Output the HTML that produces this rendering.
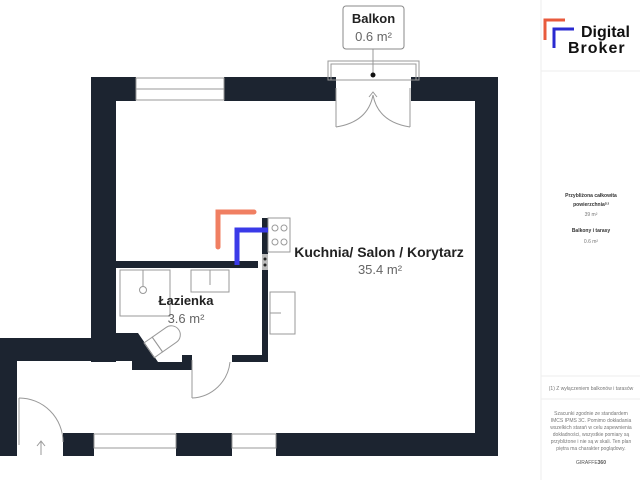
<!DOCTYPE html>
<html><head><meta charset="utf-8"><style>
html,body{margin:0;padding:0;background:#fff;width:640px;height:480px;overflow:hidden}
svg{display:block}
text{font-family:"Liberation Sans",sans-serif}
</style></head><body>
<svg width="640" height="480" viewBox="0 0 640 480" xmlns="http://www.w3.org/2000/svg">
<rect width="640" height="480" fill="#fff"/>
<g fill="#1c2430">
<rect x="91" y="77" width="45" height="24"/>
<rect x="224" y="77" width="112" height="24"/>
<rect x="411" y="77" width="87" height="24"/>
<rect x="91" y="77" width="25" height="285"/>
<rect x="475" y="77" width="23" height="379"/>
<rect x="63" y="433" width="31" height="23"/>
<rect x="176" y="433" width="56" height="23"/>
<rect x="276" y="433" width="222" height="23"/>
<rect x="0" y="338" width="116" height="23"/>
<rect x="0" y="338" width="17" height="118"/>
<polygon points="116,333 138,333 158,362 182,362 182,355 192,355 192,370 132,370 132,361 116,361"/>
<rect x="116" y="261" width="142" height="7"/>
<rect x="262" y="218" width="6" height="144"/>
<rect x="232" y="355" width="36" height="7"/>
</g>
<rect x="262" y="254" width="6" height="16" fill="#bbb"/>
<circle cx="265" cy="259" r="1.5" fill="#222"/><circle cx="265" cy="265" r="1.5" fill="#222"/>
<g fill="none" stroke="#999" stroke-width="1">
<rect x="136" y="78" width="88" height="22"/><line x1="136" y1="89" x2="224" y2="89"/>
<rect x="94" y="434" width="82" height="14"/>
<rect x="232" y="434" width="44" height="14"/>
<rect x="328" y="61" width="91" height="19"/>
<rect x="331" y="64" width="85" height="16"/>
<line x1="336" y1="88" x2="336" y2="127"/><line x1="410" y1="88" x2="410" y2="127"/>
<path d="M336 127 Q368 122 373 95"/><path d="M410 127 Q378 122 373 95"/>
<line x1="373" y1="49" x2="373" y2="75"/>
<path d="M369 97 L373 92 L377 97"/>
<rect x="268" y="218" width="22" height="34"/>
<circle cx="275" cy="228" r="3"/><circle cx="284" cy="228" r="3"/>
<circle cx="275" cy="242" r="3"/><circle cx="284" cy="242" r="3"/>
<rect x="270" y="292" width="25" height="42"/><line x1="270" y1="313" x2="281" y2="313"/>
<rect x="120" y="270" width="50" height="46"/><circle cx="143" cy="290" r="3.5"/><line x1="143" y1="270" x2="143" y2="286"/>
<rect x="191" y="270" width="38" height="22"/><line x1="210" y1="270" x2="210" y2="285"/>
<g transform="rotate(-35 165 338)"><rect x="145" y="330" width="10" height="18"/><path d="M155 330 L172 330 A9 9 0 0 1 172 348 L155 348 Z"/></g>
<line x1="192" y1="360" x2="192" y2="398"/><path d="M192 398 A40 40 0 0 0 230 362"/>
<line x1="19" y1="398" x2="19" y2="445"/><path d="M19 398 A44 44 0 0 1 63 442"/>
<path d="M37 446 L41 441 L45 446 M41 441 L41 455"/>
</g>
<circle cx="373" cy="75" r="2.5" fill="#111"/>
<rect x="343" y="6" width="61" height="43" rx="3" fill="#fff" stroke="#888"/>
<text x="373.5" y="23" font-size="13" font-weight="bold" text-anchor="middle" fill="#222">Balkon</text>
<text x="373.5" y="41" font-size="13" text-anchor="middle" fill="#666">0.6 m²</text>
<path d="M218 247 V212 H254" fill="none" stroke="#f07f62" stroke-width="5" stroke-linecap="round"/>
<path d="M237 265 V230 H268" fill="none" stroke="#3a3ae8" stroke-width="5"/>
<text x="379" y="257" font-size="14" font-weight="bold" text-anchor="middle" fill="#222">Kuchnia/ Salon / Korytarz</text>
<text x="380" y="274" font-size="13" text-anchor="middle" fill="#666">35.4 m²</text>
<text x="186" y="305" font-size="13" font-weight="bold" text-anchor="middle" fill="#222">Łazienka</text>
<text x="186" y="323" font-size="13" text-anchor="middle" fill="#666">3.6 m²</text>
<line x1="541" y1="0" x2="541" y2="480" stroke="#eee"/>
<line x1="541" y1="71" x2="640" y2="71" stroke="#eee"/>
<line x1="541" y1="376" x2="640" y2="376" stroke="#eee"/>
<line x1="541" y1="399" x2="640" y2="399" stroke="#eee"/>
<path d="M545 40 V20 H565" fill="none" stroke="#e85a3c" stroke-width="3"/>
<path d="M554 48 V29 H574" fill="none" stroke="#2a2ad0" stroke-width="3"/>
<text x="581" y="37" font-size="16" font-weight="bold" fill="#111">Digital</text>
<text x="568" y="53" font-size="16" font-weight="bold" fill="#111" letter-spacing="1">Broker</text>
<g font-size="5" text-anchor="middle" fill="#333">
<text x="591" y="197" font-weight="bold">Przybliżona całkowita</text>
<text x="591" y="206" font-weight="bold">powierzchnia⁽¹⁾</text>
<text x="591" y="216" fill="#777">39 m²</text>
<text x="591" y="232" font-weight="bold">Balkony i tarasy</text>
<text x="591" y="243" fill="#777">0.6 m²</text>
<text x="591" y="390" fill="#777">(1) Z wyłączeniem balkonów i tarasów</text>
<text x="591" y="415" fill="#777">Szacunki zgodnie ze standardem</text>
<text x="591" y="422" fill="#777">IMCS IPMS 3C. Pomimo dokładania</text>
<text x="591" y="429" fill="#777">wszelkich starań w celu zapewnienia</text>
<text x="591" y="436" fill="#777">dokładności, wszystkie pomiary są</text>
<text x="591" y="443" fill="#777">przybliżone i nie są w skali. Ten plan</text>
<text x="591" y="450" fill="#777">piętra ma charakter poglądowy.</text>
<text x="591" y="464" fill="#555">GIRAFFE<tspan font-weight="bold">360</tspan></text>
</g>
</svg>
</body></html>
